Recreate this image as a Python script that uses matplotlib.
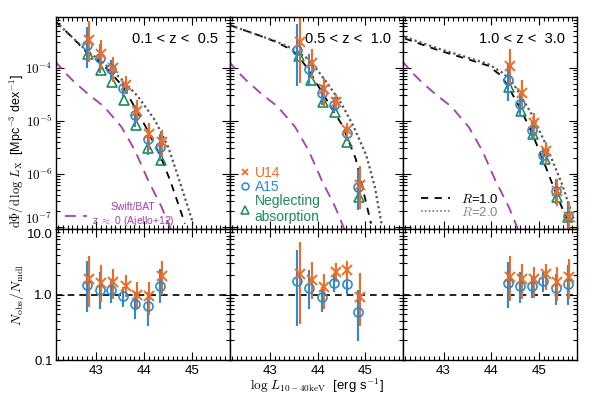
import numpy as np
import matplotlib
matplotlib.use("Agg")
import matplotlib.pyplot as plt
from matplotlib.lines import Line2D
from matplotlib.ticker import FuncFormatter, LogLocator, MultipleLocator, FixedLocator

plt.rcParams['font.family'] = ['Liberation Sans', 'DejaVu Sans']
plt.rcParams['mathtext.fontset'] = 'cm'

# colours
c_u14 = '#f26b22'
c_a15 = '#2a8ad2'
c_neg = '#1f8a55'
c_bat = '#a43fa8'

# redshift bins
z_labels = ['0.1 < z <  0.5', '0.5 < z <  1.0', '1.0 < z <  3.0']

# log L of each point (U14 / A15 / neglecting absorption), per panel
x_u14 = [[42.85, 43.10, 43.35, 43.62, 43.86, 44.11, 44.37],
         [43.63, 43.88, 44.13, 44.38, 44.62, 44.88],
         [44.40, 44.64, 44.90, 45.15, 45.38, 45.64]]
x_a15 = [[42.81, 43.07, 43.30, 43.57, 43.82, 44.08, 44.33],
         [43.56, 43.83, 44.09, 44.34, 44.61, 44.85],
         [44.35, 44.60, 44.85, 45.09, 45.35, 45.60]]
x_neg = [[42.83, 43.09, 43.33, 43.59, 43.84, 44.09, 44.35],
         [43.60, 43.86, 44.11, 44.37, 44.62, 44.86],
         [44.37, 44.62, 44.87, 45.12, 45.37, 45.62]]

# log10 dPhi/dlogL
phi_u14 = [[-3.47, -3.75, -4.00, -4.33, -4.81, -5.25, -5.40],
           [-3.52, -3.92, -4.41, -4.64, -5.18, -6.22],
           [-3.97, -4.47, -5.04, -5.57, -6.32, -6.82]]
phi_a15 = [[-3.58, -3.81, -4.02, -4.38, -4.89, -5.35, -5.50],
           [-3.66, -4.02, -4.48, -4.70, -5.23, -6.25],
           [-4.24, -4.68, -5.17, -5.65, -6.32, -6.80]]
phi_neg = [[-3.75, -4.04, -4.27, -4.60, -5.09, -5.52, -5.75],
           [-3.77, -4.24, -4.64, -4.84, -5.40, -6.44],
           [-4.37, -4.81, -5.25, -5.72, -6.44, -6.82]]

# log10 Nobs/Nmdl: centre, upper end, lower end
r_u14 = [[0.24, 0.18, 0.20, 0.13, 0.00, -0.015, 0.28],
         [0.32, 0.226, 0.113, 0.345, 0.37, -0.03],
         [0.27, 0.237, 0.24, 0.31, 0.20, 0.27]]
r_u14_hi = [[0.59, 0.457, 0.395, 0.30, 0.20, 0.20, 0.51],
            [0.81, 0.50, 0.32, 0.48, 0.51, 0.33],
            [0.59, 0.47, 0.42, 0.47, 0.42, 0.55]]
r_u14_lo = [[-0.185, -0.117, -0.066, -0.04, -0.22, -0.31, 0.0],
            [-0.45, -0.066, -0.22, 0.19, 0.19, -0.48],
            [-0.10, -0.066, -0.05, 0.07, -0.09, -0.066]]
r_a15 = [[0.154, 0.077, 0.072, -0.015, -0.143, -0.18, 0.138],
         [0.205, 0.10, -0.04, 0.175, 0.165, -0.27],
         [0.18, 0.13, 0.13, 0.205, 0.10, 0.165]]
r_a15_hi = [[0.51, 0.34, 0.24, 0.11, 0.037, 0.037, 0.395],
            [0.68, 0.37, 0.11, 0.32, 0.32, 0.07],
            [0.50, 0.34, 0.28, 0.34, 0.32, 0.45]]
r_a15_lo = [[-0.27, -0.22, -0.13, -0.19, -0.37, -0.48, -0.13],
            [-0.48, -0.22, -0.26, 0.037, 0.01, -0.70],
            [-0.21, -0.12, -0.05, 0.037, -0.15, -0.16]]

# model curves (log L, log phi)
r1_x = [[42.15, 42.50, 42.82, 43.07, 43.30, 43.57, 43.81, 44.07, 44.35, 44.55, 44.86],
        [42.17, 42.77, 43.12, 43.47, 43.61, 43.82, 44.03, 44.24, 44.52, 44.80, 45.12],
        [42.19, 42.89, 43.58, 43.93, 44.21, 44.35, 44.60, 44.85, 45.09, 45.35, 45.65]]
r1_y = [[-3.13, -3.43, -3.73, -3.89, -4.09, -4.37, -4.75, -5.17, -5.68, -6.13, -6.94],
        [-3.20, -3.39, -3.51, -3.67, -3.80, -4.05, -4.37, -4.68, -5.09, -5.72, -6.94],
        [-3.45, -3.67, -3.86, -3.96, -4.15, -4.35, -4.75, -5.22, -5.75, -6.35, -7.00]]
r2_x = [[42.15, 42.50, 42.82, 43.07, 43.30, 43.57, 43.88, 44.23, 44.51, 44.75, 45.03],
        [42.17, 42.77, 43.12, 43.47, 43.75, 44.00, 44.25, 44.50, 44.75, 45.02, 45.20, 45.34],
        [42.19, 42.89, 43.58, 43.93, 44.21, 44.40, 44.56, 44.85, 45.12, 45.47, 45.75]]
r2_y = [[-3.13, -3.43, -3.70, -3.85, -4.03, -4.25, -4.55, -4.99, -5.50, -6.15, -6.94],
        [-3.20, -3.39, -3.50, -3.64, -3.80, -4.05, -4.35, -4.68, -5.10, -5.65, -6.25, -6.94],
        [-3.42, -3.64, -3.83, -3.93, -4.08, -4.22, -4.44, -4.88, -5.40, -6.16, -6.91]]

# Swift/BAT z~0 (Ajello+12)
bat_x = [42.12, 42.33, 42.54, 42.82, 43.17, 43.53, 43.81, 44.09, 44.37, 44.54, 44.65]
bat_y = [-3.86, -4.08, -4.27, -4.49, -4.74, -5.12, -5.56, -6.13, -6.63, -7.00, -7.25]

fig, axes = plt.subplots(2, 3, figsize=(5.98, 3.98), dpi=100,
                         gridspec_kw=dict(height_ratios=[212, 131]))
fig.subplots_adjust(left=0.094, right=0.965, top=0.957, bottom=0.095,
                    wspace=0, hspace=0)

sci_fmt = FuncFormatter(lambda v, p: r'$\mathsf{10^{%d}}$' % round(np.log10(v)))
rat_fmt = FuncFormatter(lambda v, p: '%.1f' % v)


def yerr(c, hi, lo, rc):
    c = np.array(c); hi = np.array(hi); lo = np.array(lo); rc = np.array(rc)
    up = 10 ** (c + hi - rc) - 10 ** c
    dn = 10 ** c - 10 ** (c - (rc - lo))
    return [dn, up]


for i in range(3):
    ax = axes[0, i]
    bx = axes[1, i]

    ax.plot(bat_x, 10 ** np.array(bat_y), color=c_bat, ls=(0, (6, 4)), lw=1.3)
    ax.plot(r1_x[i], 10 ** np.array(r1_y[i]), color='k', ls=(0, (4, 3.5)), lw=1.3)
    ax.plot(r2_x[i], 10 ** np.array(r2_y[i]), color='#555555', ls=(0, (1, 1.3)), lw=1.6)

    ax.plot(x_neg[i], 10 ** np.array(phi_neg[i]), ls='none', marker='^', ms=7.5,
            mfc='none', mec=c_neg, mew=1.2)
    ax.errorbar(x_a15[i], 10 ** np.array(phi_a15[i]),
                yerr=yerr(phi_a15[i], r_a15_hi[i], r_a15_lo[i], r_a15[i]),
                ls='none', marker='o', ms=6.5, mfc='none', mec=c_a15, mew=1.2,
                ecolor=c_a15, elinewidth=1.5, capsize=0)
    ax.errorbar(x_u14[i], 10 ** np.array(phi_u14[i]),
                yerr=yerr(phi_u14[i], r_u14_hi[i], r_u14_lo[i], r_u14[i]),
                ls='none', marker='x', ms=7, mec=c_u14, mew=1.4,
                ecolor=c_u14, elinewidth=1.5, capsize=0)

    ax.set_yscale('log')
    ax.set_ylim(9e-8, 9e-4)
    ax.yaxis.set_major_locator(FixedLocator([1e-7, 1e-6, 1e-5, 1e-4]))
    ax.yaxis.set_minor_locator(LogLocator(base=10, subs=np.arange(2, 10), numticks=20))
    ax.yaxis.set_major_formatter(sci_fmt)
    ax.text(0.93, 0.88, z_labels[i], transform=ax.transAxes, ha='right',
            fontsize=10.5)

    # ratio panel
    bx.axhline(1.0, color='k', ls=(0, (4, 3)), lw=1.2)
    rc = np.array(r_a15[i])
    bx.errorbar(x_a15[i], 10 ** rc,
                yerr=[10 ** rc - 10 ** np.array(r_a15_lo[i]), 10 ** np.array(r_a15_hi[i]) - 10 ** rc],
                ls='none', marker='o', ms=6.5, mfc='none', mec=c_a15, mew=1.2,
                ecolor=c_a15, elinewidth=1.5, capsize=0)
    rc = np.array(r_u14[i])
    bx.errorbar(x_u14[i], 10 ** rc,
                yerr=[10 ** rc - 10 ** np.array(r_u14_lo[i]), 10 ** np.array(r_u14_hi[i]) - 10 ** rc],
                ls='none', marker='x', ms=7, mec=c_u14, mew=1.4,
                ecolor=c_u14, elinewidth=1.5, capsize=0)
    bx.set_yscale('log')
    bx.set_ylim(0.1, 10)
    bx.yaxis.set_major_locator(FixedLocator([0.1, 1.0, 10.0]))
    bx.yaxis.set_minor_locator(LogLocator(base=10, subs=np.arange(2, 10), numticks=20))
    bx.yaxis.set_major_formatter(rat_fmt)

    for a in (ax, bx):
        a.set_xlim(42.16, 45.8)
        a.xaxis.set_major_locator(MultipleLocator(1))
        a.xaxis.set_minor_locator(MultipleLocator(0.1))
        a.tick_params(which='both', direction='in', top=True, right=True,
                      labelsize=9.5, width=0.8)
        a.tick_params(which='major', length=6)
        a.tick_params(which='minor', length=3)
        a.tick_params(axis='y', pad=2.5)
        for s in a.spines.values():
            s.set_linewidth(1.0)
        if i > 0:
            a.tick_params(labelleft=False)
    ax.tick_params(labelbottom=False)

# keep 10^-7 and 10.0 apart at the panel junction
fig.canvas.draw()
axes[0, 0].yaxis.get_major_ticks()[0].label1.set_va('bottom')
axes[1, 0].yaxis.get_major_ticks()[-1].label1.set_va('top')

# legends
leg = axes[0, 0].legend([Line2D([], [], color=c_bat, ls=(0, (6, 4)), lw=1.3)],
                        ['Swift/BAT\nz $\\approx$ 0 (Ajello+12)'],
                        loc='lower left', bbox_to_anchor=(0.0, -0.035), frameon=False,
                        fontsize=7.5, handlelength=2.2, labelcolor=c_bat,
                        borderpad=0.3, handletextpad=0.4)
for t in leg.get_texts():
    t.set_multialignment('center')

axes[0, 1].legend([Line2D([], [], ls='none', marker='x', ms=5, mec=c_u14, mew=1.2),
                   Line2D([], [], ls='none', marker='o', ms=5, mfc='none', mec=c_a15, mew=1.1),
                   Line2D([], [], ls='none', marker='^', ms=5.5, mfc='none', mec=c_neg, mew=1.1)],
                  ['U14', 'A15', 'Neglecting\nabsorption'],
                  loc='lower left', bbox_to_anchor=(0.0, -0.03), frameon=False,
                  fontsize=10, handlelength=0.6, handletextpad=0.4,
                  labelcolor=[c_u14, c_a15, c_neg], labelspacing=0.0,
                  borderpad=0.3)

axes[0, 2].legend([Line2D([], [], color='k', ls=(0, (4, 3.5)), lw=1.3),
                   Line2D([], [], color='#777777', ls=(0, (1, 1.3)), lw=1.2)],
                  ['$R$=1.0', '$R$=2.0'],
                  loc='lower left', bbox_to_anchor=(0.04, 0.0), frameon=False,
                  fontsize=9.5, handlelength=2.2, labelcolor=['k', '#888888'],
                  labelspacing=0.0, borderpad=0.3)

fig.text(0.028, 0.62, r'$\mathrm{d}\Phi/\mathrm{d}\,\log\,L_\mathrm{X}$  [Mpc$^{-3}$ dex$^{-1}$]',
         rotation=90, ha='center', va='center', fontsize=9)
fig.text(0.028, 0.26, r'$N_\mathrm{obs}/N_\mathrm{mdl}$', rotation=90,
         ha='center', va='center', fontsize=10)
fig.text(0.53, 0.03, r'$\log\,L_{10-40\mathrm{keV}}$  [erg s$^{-1}$]',
         ha='center', va='center', fontsize=9.5)

fig.savefig('out.png', dpi=100)
